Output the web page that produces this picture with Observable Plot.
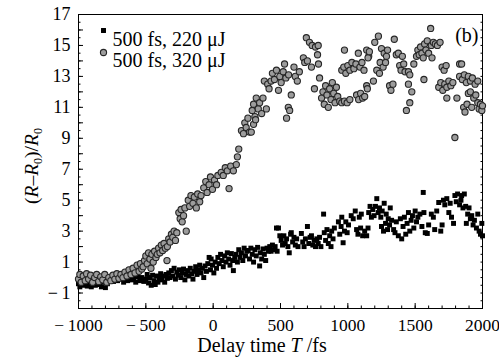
<!DOCTYPE html>
<html><head><meta charset="utf-8">
<script src="https://cdn.jsdelivr.net/npm/d3@7"></script>
<script src="https://cdn.jsdelivr.net/npm/@observablehq/plot@0.6"></script>
<style>body{margin:0;background:#fff} svg{display:block}</style>
</head><body><div id="chart"></div>
<script>
const xTicks = [-1000,-500,0,500,1000,1500,2000];
const yTicks = [-1,1,3,5,7,9,11,13,15,17];
const seriesNames = ["500 fs, 220 μJ","500 fs, 320 μJ"];
const panelLabel = "(b)";

// 500 fs, 220 uJ  [delay fs, (R-R0)/R0]
const series220 = [
[-1000,-0.4],[-990,-0.6],[-980,-0.3],[-965,-0.5],[-950,-0.2],[-935,-0.55],[-920,-0.35],[-905,-0.6],[-890,-0.3],[-875,-0.5],[-860,-0.15],[-845,-0.45],[-830,-0.6],[-815,-0.3],[-800,-0.65],[-785,-0.4],
[-770,-0.1],[-755,0.05],[-740,-0.25],[-725,0.0],[-710,-0.2],[-695,0.1],[-680,-0.1],[-665,-0.3],[-650,0.0],[-635,-0.2],[-620,0.1],[-605,-0.15],[-590,-0.05],[-575,-0.3],[-560,0.05],[-545,-0.2],[-530,0.0],[-515,-0.25],
[-500,-0.1],[-490,0.2],[-480,-0.35],[-470,0.0],[-460,-0.5],[-450,0.15],[-440,-0.2],[-430,-0.45],[-420,0.1],[-410,-0.3],[-400,0.0],[-390,0.25],[-380,-0.15],[-370,0.1],[-360,-0.3],[-350,0.2],[-340,-0.05],
[-330,0.3],[-320,0.0],[-310,0.45],[-300,0.1],[-290,0.6],[-280,-0.1],[-270,0.35],[-260,0.15],[-250,0.5],[-240,0.0],[-230,0.3],[-220,0.55],[-210,-0.15],[-200,0.2],[-190,0.45],[-180,0.1],[-170,0.6],[-160,0.25],[-150,-0.1],[-140,0.4],
[-130,0.7],[-120,0.2],[-110,0.5],[-100,0.8],[-90,0.3],[-80,0.6],[-70,0.0],[-60,0.75],[-50,0.4],[-40,0.9],[-30,1.3],[-20,0.5],[-15,1.2],[-5,0.8],[5,0.3],
[15,1.0],[25,0.6],[35,1.3],[45,0.9],[55,1.5],[65,1.1],[75,0.7],[85,1.4],[95,1.0],[105,1.6],[115,1.2],[125,0.8],[135,1.55],[145,1.1],[150,0.45],[160,1.3],
[170,1.5],[180,1.0],[190,1.8],[200,1.3],[210,1.6],[220,1.1],[230,1.9],[240,1.4],[250,1.7],[260,1.75],[270,1.2],[280,1.9],[290,1.5],[300,1.0],[310,1.8],[320,1.4],[330,1.95],[345,0.75],[350,1.6],[360,1.2],[370,1.85],[380,1.5],[390,1.1],[400,1.9],[410,1.7],
[420,2.0],[430,1.7],[440,2.1],[450,1.8],[460,2.0],[470,3.2],[475,1.7],[485,3.2],[495,2.7],
[505,2.4],[515,2.1],[525,2.7],[535,2.2],[545,2.5],[555,2.0],[565,1.6],[575,2.8],[580,2.9],[590,2.3],[600,2.6],[610,2.1],[620,2.5],[630,2.0],
[655,2.85],[665,2.3],[675,2.0],[685,2.5],[700,3.3],[710,2.2],[720,2.6],[730,2.7],[740,2.1],[750,2.4],[760,2.0],[770,2.5],[780,2.2],[790,2.6],[800,2.0],
[820,4.1],[825,2.9],[835,2.4],[845,3.1],[855,2.2],[865,2.7],[875,2.0],[880,3.0],[890,2.5],[900,3.2],
[930,3.6],[940,2.8],[950,3.3],[955,3.9],[965,2.25],[975,3.0],[985,3.6],[995,2.9],[1005,3.4],
[1025,4.0],[1040,3.8],[1055,4.3],[1065,3.1],[1075,2.8],[1085,3.9],[1095,3.2],[1100,4.1],
[1110,2.7],[1125,3.0],[1140,2.7],[1150,3.2],
[1155,4.2],[1165,4.6],[1175,3.9],[1185,4.4],[1195,4.0],[1205,4.6],[1215,5.1],[1225,4.2],[1235,4.5],[1245,3.9],[1255,4.3],[1270,4.8],[1285,4.1],[1300,3.8],[1315,4.5],
[1250,3.3],[1265,3.0],[1280,3.5],[1295,3.1],[1310,3.4],[1325,3.7],[1340,3.1],[1350,2.9],
[1360,3.6],[1375,2.7],[1390,3.8],[1400,2.5],[1410,3.3],[1420,3.9],[1430,2.8],[1440,3.5],[1450,4.2],[1460,3.0],[1470,3.7],[1480,4.0],[1490,3.2],[1500,4.3],[1510,3.6],[1520,3.9],[1535,4.1],[1550,3.3],[1560,5.5],[1565,4.2],[1575,2.9],[1590,2.85],[1600,3.4],
[1620,4.1],[1635,3.9],[1645,3.1],[1660,4.3],[1675,4.85],[1690,3.0],[1700,3.4],[1710,5.0],[1720,4.7],[1735,5.1],[1750,4.2],[1760,4.8],[1770,3.9],[1785,3.5],[1795,5.3],[1805,4.9],[1815,5.4],[1830,4.7],[1840,5.0],[1845,5.3],[1855,4.5],[1865,5.4],[1875,4.6],[1880,3.5],[1890,4.1],[1900,4.5],[1910,3.8],[1920,4.0],[1930,3.4],[1940,3.7],[1955,3.2],[1965,4.1],[1975,3.0],[1985,2.8],[1995,3.5],[2000,2.7]
];

// 500 fs, 320 uJ  [delay fs, (R-R0)/R0]
const series320 = [
[-1000,-0.1],[-990,0.2],[-980,-0.3],[-965,0.1],[-950,-0.2],[-940,0.25],[-925,-0.1],[-910,0.15],[-895,-0.3],[-880,0.0],[-865,0.2],[-850,-0.25],[-835,0.05],[-820,-0.15],[-805,0.2],[-790,-0.3],[-775,0.0],[-760,-0.2],[-745,0.15],[-730,-0.1],[-715,0.25],[-700,-0.05],[-685,0.2],[-670,0.0],[-655,0.35],
[-640,0.1],[-625,0.5],[-610,0.2],[-595,0.6],[-580,0.3],[-565,0.8],[-550,0.4],[-540,0.9],[-530,0.55],[-520,0.7],
[-510,1.1],[-500,1.4],[-490,0.9],[-480,1.6],[-470,1.2],[-462,0.6],[-455,1.5],[-445,1.0],[-435,1.7],[-425,1.3],[-415,1.5],
[-405,1.9],[-395,1.6],[-385,2.1],[-375,1.75],[-365,2.2],[-355,1.9],[-343,1.1],[-340,2.0],
[-330,2.5],[-320,2.3],[-310,2.8],[-300,2.6],[-290,3.0],[-280,2.4],[-270,2.9],
[-255,4.2],[-245,3.8],[-238,4.4],[-230,3.6],[-220,4.0],[-200,3.0],[-210,4.5],
[-185,5.0],[-175,4.6],[-165,5.3],[-150,4.8],[-140,5.2],[-125,4.5],[-115,5.4],[-100,4.9],[-90,5.3],
[-70,5.8],[-55,6.2],[-45,5.5],[-30,6.0],[-20,6.5],[-5,5.7],[10,6.3],[25,6.0],[35,6.6],
[60,6.8],[75,6.6],[90,7.1],[105,6.9],[118,5.75],[130,7.2],[150,6.9],
[172,7.3],[180,7.8],[190,8.3],
[210,9.5],[225,9.3],[235,10.0],[245,9.7],[258,10.3],[270,9.4],[283,9.4],
[290,10.8],[300,11.2],[310,10.4],[320,11.6],[335,10.9],[345,11.3],[360,10.6],[300,9.9],[315,10.2],
[370,11.6],[380,12.7],[395,10.9],[405,12.5],[415,12.2],[430,12.7],[440,13.2],[455,12.8],[470,13.4],[485,12.1],[495,13.0],[505,12.6],
[520,13.3],[530,13.8],[540,12.9],[545,10.3],[558,11.0],[560,13.1],[568,10.8],[580,11.8],[600,13.6],[610,13.0],[625,12.7],[640,13.3],
[670,14.2],[680,13.9],[692,15.5],[700,14.0],[715,15.2],[730,13.6],[735,15.0],[752,12.2],[760,14.9],[775,14.4],[782,13.8],[790,12.9],[780,15.0],
[805,11.6],[815,12.0],[825,11.2],[835,12.4],[845,11.8],[855,11.0],[865,12.2],[875,11.5],[885,12.6],[895,11.9],[905,11.3],[915,12.3],[925,11.7],[940,11.4],[955,11.3],[975,11.4],[995,11.3],[1015,11.5],
[975,14.7],
[955,13.4],[970,13.6],[985,13.2],[1000,13.7],[1015,13.4],[1030,13.9],[1045,13.5],[1060,13.8],[1078,14.5],[1090,13.6],[1105,13.9],[1120,13.4],
[1065,11.8],[1080,11.5],[1095,11.9],[1110,11.6],[1125,11.7],
[1140,12.4],[1145,12.2],[1140,14.7],[1155,14.3],[1150,14.2],[1160,14.6],
[1190,12.7],[1200,15.2],[1215,13.4],[1227,15.6],[1235,13.2],[1240,13.9],[1250,14.8],[1262,13.6],[1270,14.5],[1280,13.9],[1287,14.3],[1295,14.7],[1310,12.4],[1320,12.1],[1335,12.5],[1345,15.4],[1360,14.4],[1375,14.5],[1385,13.7],[1395,13.4],[1405,14.3],[1415,13.8],[1425,13.3],[1435,10.8],[1450,13.3],[1450,12.5],[1460,13.1],[1460,11.3],[1475,12.0],[1490,13.8],
[1510,14.3],[1520,14.7],[1530,14.4],[1540,14.9],[1550,14.5],[1560,14.2],[1565,12.8],[1570,15.1],[1580,14.7],[1590,15.3],[1600,14.5],[1615,16.1],[1620,15.0],[1625,14.2],[1635,15.2],[1650,15.1],[1665,15.0],[1685,15.2],
[1700,13.6],[1715,13.4],[1730,13.7],[1675,12.3],[1690,12.6],[1705,12.1],[1720,12.5],[1735,12.3],[1750,12.7],[1765,12.4],[1780,12.6],[1735,11.6],[1795,9.05],[1810,11.6],[1830,13.8],[1845,13.8],
[1830,13.0],[1850,12.8],[1865,13.1],[1880,12.6],[1895,13.0],[1910,12.7],[1925,12.9],[1945,12.5],[1965,12.7],
[1860,11.0],[1870,10.7],[1885,11.2],[1895,11.9],[1910,12.0],[1920,11.0],[1935,11.6],[1950,11.8],[1965,11.3],[1975,10.9],[1985,11.2],[1995,10.8],[2000,11.1]
];

const fmt = d => d < 0 ? "\u2212\u2009" + Math.abs(d) : String(d);
const FONT = "'Liberation Serif', 'Times New Roman', Times, serif";

const plot = Plot.plot({
  width: 499, height: 358,
  marginLeft: 78, marginRight: 17, marginTop: 14, marginBottom: 50,
  style: {fontFamily: FONT, fontSize: "18px", background: "#fff", color: "#000"},
  x: {domain: [-1000, 2000], label: null},
  y: {domain: [-2, 17], label: null},
  marks: [
    Plot.axisX(xTicks, {tickSize: 0, tickPadding: 10, tickFormat: fmt, label: null, fontSize: 17.5}),
    Plot.axisX(xTicks, {tickSize: -5, tickFormat: () => "", label: null}),
    Plot.axisX(d3.range(-1000, 2001, 100), {tickSize: -2.5, tickFormat: () => "", label: null}),
    Plot.axisY(yTicks, {tickSize: 0, tickPadding: 8, tickFormat: fmt, label: null, fontSize: 18}),
    Plot.axisY(d3.range(-2, 17.01, 1), {tickSize: -5, tickFormat: () => "", label: null}),
    Plot.axisY(d3.range(-2, 17.01, 0.5), {tickSize: -2.5, tickFormat: () => "", label: null}),
    Plot.axisY(d3.range(-2, 17.01, 0.5), {anchor: "right", tickSize: -2.5, tickFormat: () => "", label: null}),
    Plot.frame({stroke: "#000", strokeWidth: 1}),
    Plot.dot(series220, {x: d => d[0], y: d => d[1], symbol: "square", r: 2.8, fill: "#000", stroke: "none"}),
    Plot.dot(series320, {x: d => d[0], y: d => d[1], r: 3.1, fill: "#9c9c9c", stroke: "#262626", strokeWidth: 1.1}),
    Plot.dot([seriesNames[0]], {frameAnchor: "top-left", dx: 25, dy: 16, symbol: "square", r: 2.8, fill: "#000"}),
    Plot.dot([seriesNames[1]], {frameAnchor: "top-left", dx: 25, dy: 38, r: 3.1, fill: "#9c9c9c", stroke: "#262626", strokeWidth: 1.1}),
    Plot.text([seriesNames[0]], {frameAnchor: "top-left", dx: 34, dy: 17, text: d => d, textAnchor: "start", fontSize: 20}),
    Plot.text([seriesNames[1]], {frameAnchor: "top-left", dx: 34, dy: 38, text: d => d, textAnchor: "start", fontSize: 20}),
    Plot.text([panelLabel], {frameAnchor: "top-right", dx: -4, dy: 13, text: d => d, textAnchor: "end", fontSize: 20})
  ]
});

const svg = d3.select(plot);
const yl = svg.append("text")
  .attr("transform", "translate(38,166) rotate(-90)")
  .attr("text-anchor", "middle")
  .style("font-family", FONT).attr("font-size", 19.5).attr("fill", "#000");
yl.append("tspan").text("(");
yl.append("tspan").attr("font-style", "italic").text("R");
yl.append("tspan").text("\u2013");
yl.append("tspan").attr("font-style", "italic").text("R");
yl.append("tspan").attr("font-size", 12).attr("dy", 4).text("0");
yl.append("tspan").attr("dy", -4).text(")/");
yl.append("tspan").attr("font-style", "italic").text("R");
yl.append("tspan").attr("font-size", 12).attr("dy", 4).text("0");

const xl = svg.append("text")
  .attr("x", 262).attr("y", 352)
  .attr("text-anchor", "middle")
  .style("font-family", FONT).attr("font-size", 20).attr("fill", "#000");
xl.append("tspan").text("Delay time ");
xl.append("tspan").attr("font-style", "italic").text("T");
xl.append("tspan").text(" /fs");

document.getElementById("chart").appendChild(plot);
</script>
</body></html>
